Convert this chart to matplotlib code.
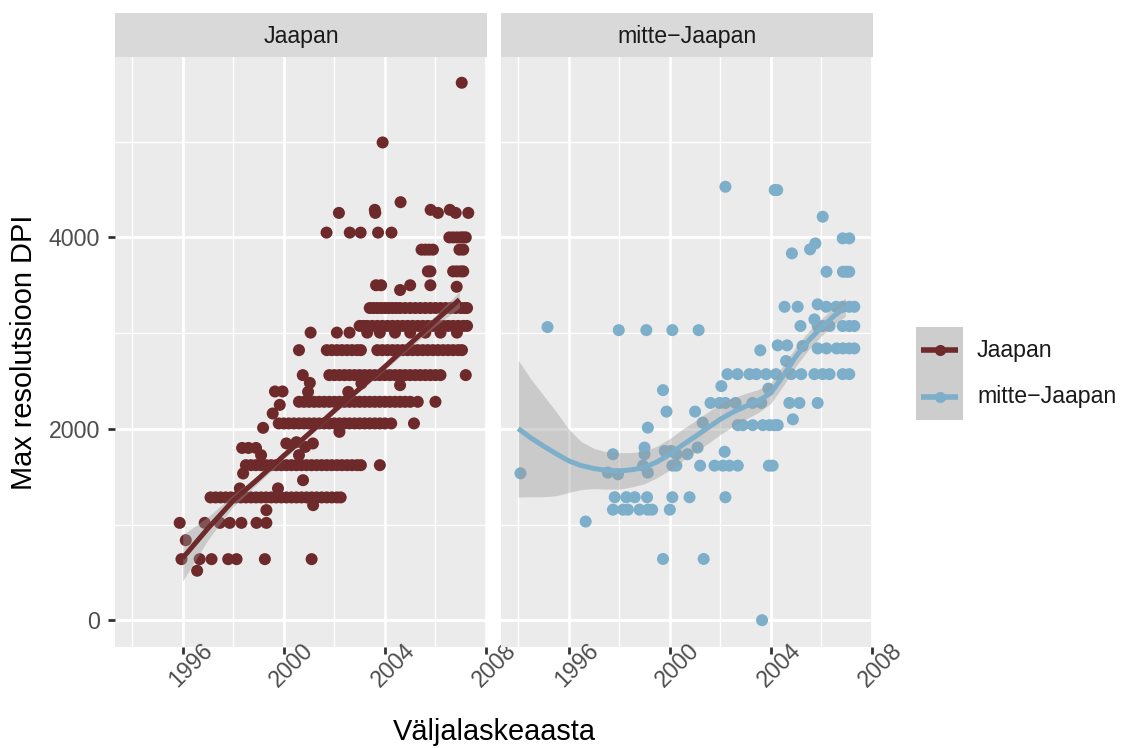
import matplotlib
matplotlib.use('Agg')
import matplotlib.pyplot as plt
import matplotlib.transforms as mtransforms
from matplotlib.patches import Rectangle
from matplotlib.lines import Line2D

plt.rcParams['font.family'] = ['Liberation Sans', 'DejaVu Sans']

# ---------------- andmed: Jaapan ----------------
# tihedad read (aasta) kindlal resolutsioonil
jp_4000 = [2006.55, 2006.7, 2006.85, 2007.0, 2007.1, 2007.2]
jp_3872 = [2005.45, 2005.6, 2005.75, 2005.9, 2006.95, 2007.1]
jp_3648 = [2005.7, 2005.8, 2006.7, 2006.85, 2007.0, 2007.1]
jp_3264 = [2003.4, 2003.55, 2003.7, 2003.85, 2004.0, 2004.15, 2004.3, 2004.45, 2004.6, 2004.8,
           2005.0, 2005.2, 2005.4, 2005.6, 2005.8, 2006.0, 2006.2, 2006.4, 2006.6, 2006.8,
           2007.0, 2007.15, 2007.25]
jp_3072 = [2003.0, 2003.15, 2003.3, 2003.5, 2003.7, 2003.9, 2004.1, 2004.3, 2004.5, 2004.7,
           2004.9, 2005.1, 2005.3, 2005.5, 2005.7, 2005.9, 2006.1, 2006.3, 2006.5, 2006.7,
           2006.9, 2007.1, 2007.25]
jp_3008 = [2001.06, 2002.1, 2002.6, 2003.3, 2003.8, 2004.4, 2005.0, 2005.6, 2006.2, 2006.85]
jp_2816 = [2000.6, 2001.7, 2001.9, 2002.1, 2002.3, 2002.5, 2002.7, 2002.9, 2003.05, 2003.7,
           2003.9, 2004.1, 2004.3, 2004.5, 2004.7, 2004.9, 2005.1, 2005.3, 2005.5, 2005.7,
           2005.9, 2006.1, 2006.3, 2006.5, 2006.7, 2006.9, 2007.05]
jp_2560 = [2000.75, 2001.8, 2002.0, 2002.2, 2002.4, 2002.6, 2002.8, 2003.0, 2003.2, 2003.4,
           2003.6, 2003.8, 2004.0, 2004.2, 2004.4, 2004.6, 2004.8, 2005.0, 2005.2, 2005.4,
           2005.6, 2005.8, 2006.0, 2006.2, 2007.2]
jp_2272 = [2000.6, 2000.8, 2001.0, 2001.2, 2001.4, 2001.6, 2001.8, 2002.0, 2002.2, 2002.4,
           2002.6, 2002.8, 2003.0, 2003.2, 2003.4, 2003.6, 2003.8, 2004.0, 2004.2, 2004.4,
           2004.6, 2004.8, 2005.0, 2005.3, 2006.0]
jp_2048 = [1999.8, 2000.0, 2000.2, 2000.4, 2000.6, 2000.8, 2001.0, 2001.2, 2001.4, 2001.6,
           2001.8, 2002.0, 2002.2, 2002.4, 2002.6, 2002.8, 2003.0, 2003.2, 2003.4, 2003.6,
           2003.8, 2004.0, 2004.25, 2005.15]
jp_1600 = [1998.5, 1998.7, 1998.9, 1999.1, 1999.3, 1999.5, 1999.7, 1999.9, 2000.1, 2000.3,
           2000.5, 2000.7, 2000.9, 2001.1, 2001.3, 2001.5, 2001.7, 2001.9, 2002.1, 2002.3,
           2002.5, 2002.7, 2002.9, 2003.05, 2003.8]
jp_1280 = [1997.1, 1997.3, 1997.5, 1997.7, 1997.9, 1998.1, 1998.3, 1998.5, 1998.7, 1998.9,
           1999.1, 1999.3, 1999.5, 1999.7, 1999.9, 2000.1, 2000.3, 2000.5, 2000.7, 2000.9,
           2001.1, 2001.3, 2001.5, 2001.7, 2001.9, 2002.1, 2002.25]
jp_1024 = [1995.88, 1996.87, 1997.47, 1997.86, 1998.32, 1998.92, 1999.31]
jp_640 = [1995.95, 1996.67, 1997.14, 1997.8, 1998.13, 1999.25, 2001.1]
# üksikud punktid
jp_muu_x = [2007.04, 2003.91, 2004.62,
            2002.18, 2003.6, 2003.62, 2005.81, 2006.1, 2006.57, 2006.8, 2007.3,
            2001.69, 2002.61, 2003.04, 2003.73, 2004.26,
            2003.65, 2003.85, 2004.6, 2005.0, 2005.8, 2006.84,
            2001.03, 2003.07, 2004.6,
            1999.65, 1999.95, 2000.96, 2002.55,
            1999.84, 1999.56, 1999.18, 2002.2,
            2000.1, 2000.5, 2001.15,
            1998.35, 1998.6, 1998.9, 2000.85,
            1999.1, 2000.6,
            1998.39, 2000.76, 1998.26, 1999.77,
            2001.16, 1999.31, 1996.12, 1996.57]
jp_muu_y = [5616, 4992, 4368,
            4256, 4288, 4256, 4288, 4256, 4288, 4256, 4256,
            4050, 4050, 4050, 4050, 4050,
            3500, 3500, 3450, 3500, 3500, 3484,
            2480, 2474, 2456,
            2390, 2390, 2386, 2386,
            2250, 2160, 2010, 1968,
            1847, 1860, 1847,
            1800, 1800, 1800, 1811,
            1725, 1725,
            1533, 1463, 1377, 1377,
            1202, 1150, 836, 517]

# ---------------- andmed: mitte-Jaapan ----------------
nj_3648 = [2006.2, 2006.85, 2007.0, 2007.1]
nj_3280 = [2004.54, 2005.06, 2006.19, 2006.58, 2006.84, 2007.1, 2007.3]
nj_3072 = [2005.17, 2005.85, 2006.05, 2006.32, 2006.84, 2007.1, 2007.3]
nj_2848 = [2005.85, 2006.2, 2006.6, 2006.85, 2007.1, 2007.3]
nj_2576 = [2002.28, 2002.68, 2003.15, 2003.42, 2003.81, 2004.2, 2004.8, 2005.2, 2005.72,
           2006.05, 2006.32, 2006.84, 2007.1]
nj_2272 = [2001.61, 2001.97, 2002.2, 2002.6, 2003.27, 2003.62, 2004.73, 2005.13, 2005.85]
nj_2040 = [2002.69, 2002.89, 2003.28, 2003.68, 2003.95, 2004.14, 2004.27]
nj_1612 = [1998.94, 2000.1, 2000.26, 2001.2, 2001.77, 2002.1, 2002.36, 2002.69, 2003.92, 2004.07]
nj_1288 = [1997.82, 1998.28, 1998.61, 1999.1, 2000.1, 2000.78, 2002.2]
nj_1152 = [1997.75, 1998.15, 1998.34, 1998.8, 1999.13, 1999.3, 2000.0]
nj_muu_x = [2002.2, 2004.15, 2004.25, 2006.05, 2006.84, 2007.1, 2004.83, 2005.55, 2005.76,
            1995.16, 1997.98, 1999.07, 2000.1, 2001.14,
            2005.85, 2005.72, 2003.58, 2004.27, 2004.64, 2005.25, 2004.6,
            2002.04, 1999.73, 2003.9, 1999.87, 2001.0, 2004.87, 2001.3, 1999.13,
            1997.75, 1999.0, 1999.0, 1999.8, 2000.06, 2000.26, 2000.7, 2001.1, 2002.17,
            1994.09, 1997.55, 1997.95, 1999.13,
            1996.67, 1999.73, 2001.34, 2003.65]
nj_muu_y = [4529, 4495, 4495, 4216, 3990, 3990, 3833, 3875, 3937,
            3063, 3031, 3031, 3031, 3031,
            3300, 3143, 2820, 2872, 2872, 2865, 2708,
            2446, 2404, 2420, 2180, 2180, 2099, 2065, 2012,
            1734, 1804, 1734, 1768, 1768, 1734, 1734, 1804, 1760,
            1535, 1542, 1525, 1542,
            1031, 640, 640, 0]

# ---------------- silutud kõverad (loess) koos usaldusvahemikuga ----------------
jp_fit_x = [1996.0, 1997.0, 1998.0, 1999.0, 2000.0, 2001.0, 2002.0, 2003.0, 2004.0, 2005.0, 2006.0, 2006.95]
jp_fit_y = [650, 960, 1250, 1480, 1720, 1950, 2190, 2420, 2650, 2890, 3130, 3350]
jp_fit_lo = [410, 840, 1190, 1435, 1685, 1920, 2160, 2390, 2615, 2850, 3075, 3265]
jp_fit_hi = [890, 1080, 1310, 1525, 1755, 1980, 2220, 2450, 2685, 2930, 3185, 3435]

nj_fit_x = [1994.0, 1994.5, 1995.0, 1995.5, 1996.0, 1996.5, 1997.0, 1997.5, 1998.0, 1998.5,
            1999.0, 1999.5, 2000.0, 2000.5, 2001.0, 2001.5, 2002.0, 2002.5, 2003.0, 2003.5,
            2004.0, 2004.5, 2005.0, 2005.5, 2006.0, 2006.5, 2006.95]
nj_fit_y = [2002, 1905, 1820, 1740, 1665, 1615, 1585, 1565, 1560, 1572,
            1597, 1655, 1734, 1830, 1918, 2010, 2100, 2175, 2235, 2290,
            2375, 2560, 2760, 2925, 3060, 3180, 3270]
nj_fit_lo = [1287, 1290, 1290, 1300, 1335, 1365, 1375, 1370, 1370, 1392,
             1427, 1490, 1569, 1665, 1753, 1845, 1940, 2025, 2100, 2170,
             2265, 2455, 2660, 2830, 2970, 3090, 3175]
nj_fit_hi = [2717, 2520, 2350, 2180, 1995, 1865, 1795, 1760, 1750, 1752,
             1767, 1820, 1899, 1995, 2083, 2175, 2260, 2325, 2370, 2410,
             2485, 2665, 2860, 3020, 3150, 3270, 3365]

paneelid = ['Jaapan', 'mitte\u2212Jaapan']
varvid = ['#6E2A2A', '#7DAFCA']

W, H = 1123, 748


def fx(px):
    return px / W


def fy(py):
    return 1 - py / H


def read_points(rows, muu_x, muu_y):
    xs, ys = [], []
    for lvl, yrs in rows:
        xs += yrs
        ys += [lvl] * len(yrs)
    return xs + muu_x, ys + muu_y


jp_x, jp_y = read_points([(4000, jp_4000), (3872, jp_3872), (3645, jp_3648), (3262, jp_3264),
                          (3075, jp_3072), (3005, jp_3008), (2822, jp_2816), (2561, jp_2560),
                          (2282, jp_2272), (2056, jp_2048), (1620, jp_1600), (1283, jp_1280),
                          (1017, jp_1024), (638, jp_640)], jp_muu_x, jp_muu_y)
nj_x, nj_y = read_points([(3641, nj_3648), (3275, nj_3280), (3074, nj_3072), (2840, nj_2848),
                          (2571, nj_2576), (2270, nj_2272), (2038, nj_2040), (1615, nj_1612),
                          (1285, nj_1288), (1155, nj_1152)], nj_muu_x, nj_muu_y)

fig = plt.figure(figsize=(W / 100, H / 100), dpi=100)

panel_px = [(115, 487), (501, 873)]
andmed = [(jp_x, jp_y, jp_fit_x, jp_fit_y, jp_fit_lo, jp_fit_hi),
          (nj_x, nj_y, nj_fit_x, nj_fit_y, nj_fit_lo, nj_fit_hi)]

offset = mtransforms.ScaledTranslation(8 / 100, 0, fig.dpi_scale_trans)

for i, ((x0, x1), (px_, py_, fx_, fy_, lo_, hi_)) in enumerate(zip(panel_px, andmed)):
    ax = fig.add_axes([fx(x0), fy(647), (x1 - x0) / W, (647 - 57) / H])
    ax.set_facecolor('#EBEBEB')
    for s in ax.spines.values():
        s.set_visible(False)

    ax.scatter(px_, py_, s=75, color=varvid[i], edgecolors='none', zorder=2)
    ax.fill_between(fx_, lo_, hi_, color='#999999', alpha=0.4, lw=0, zorder=3)
    ax.plot(fx_, fy_, color=varvid[i], lw=3.6, solid_capstyle='butt', zorder=4)

    ax.set_xlim(1993.32, 2008.04)
    ax.set_ylim(-280, 5885)
    ax.set_xticks([1996, 2000, 2004, 2008])
    ax.set_xticks([1994, 1998, 2002, 2006], minor=True)
    ax.set_yticks([0, 2000, 4000])
    ax.set_yticks([1000, 3000, 5000], minor=True)
    ax.grid(which='major', color='white', lw=2.0)
    ax.grid(which='minor', color='white', lw=1.0)
    ax.set_axisbelow(True)

    ax.tick_params(which='minor', length=0)
    ax.tick_params(axis='x', which='major', direction='out', length=5, width=2,
                   color='#333333', labelcolor='#4D4D4D', labelsize=16.7, pad=8)
    ax.tick_params(axis='y', which='major', direction='out', length=5, width=2,
                   color='#333333', labelcolor='#4D4D4D', labelsize=16.7, pad=5.8)
    for lbl in ax.get_xticklabels():
        lbl.set_rotation(45)
        lbl.set_rotation_mode('anchor')
        lbl.set_ha('center')
        lbl.set_va('center')
        lbl.set_transform(lbl.get_transform() + offset)
    if i == 1:
        ax.tick_params(axis='y', which='major', left=False, labelleft=False)

    # paneeli pealkiri (strip)
    sax = fig.add_axes([fx(x0), fy(57), (x1 - x0) / W, (57 - 13) / H])
    sax.set_facecolor('#D9D9D9')
    sax.set_xticks([])
    sax.set_yticks([])
    for s in sax.spines.values():
        s.set_visible(False)
    sax.text(0.5, 0.47, paneelid[i], ha='center', va='center', fontsize=16.7, color='#1A1A1A')

# telgede pealkirjad
fig.text(fx(494), fy(740), 'Väljalaskeaasta', ha='center', va='baseline', fontsize=20.9)
fig.text(fx(24), fy(352), 'Max resolutsioon DPI', ha='center', va='center',
         rotation=90, fontsize=20.9)

# legend
fig.add_artist(Rectangle((fx(916), fy(420)), 47 / W, 93 / H, transform=fig.transFigure,
                         facecolor='#CDCDCD', edgecolor='none'))
for nimi, c, yy in zip(paneelid, varvid, [350, 397]):
    fig.add_artist(Line2D([fx(921), fx(958)], [fy(yy), fy(yy)], transform=fig.transFigure,
                          color=c, lw=4, solid_capstyle='butt'))
    fig.add_artist(Line2D([fx(939.5)], [fy(yy)], transform=fig.transFigure, color=c,
                          marker='o', markersize=8, markeredgewidth=0, linestyle='none'))
    fig.text(fx(977), fy(yy), nimi, ha='left', va='center', fontsize=16.7, color='#1A1A1A')

plt.savefig('out.png', dpi=100)
plt.close()
